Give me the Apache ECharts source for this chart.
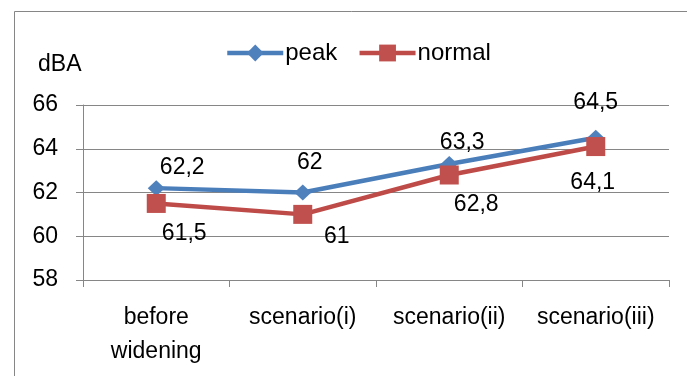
<!DOCTYPE html>
<html>
<head>
<meta charset="utf-8">
<script src="https://cdn.jsdelivr.net/npm/echarts@6/dist/echarts.min.js"></script>
<style>
  html, body { margin: 0; padding: 0; background: #fff; }
  #chart { width: 687px; height: 376px; }
</style>
</head>
<body>
<div id="chart"></div>
<script>
// Noise level (dBA) per road-widening scenario
const categories = ['before\nwidening', 'scenario(i)', 'scenario(ii)', 'scenario(iii)'];
const peakValues = [62.2, 62, 63.3, 64.5];
const normalValues = [61.5, 61, 62.8, 64.1];
const yTicks = { min: 58, max: 66, step: 2 };
const unitLabel = 'dBA';

const FONT = '"Liberation Sans", Arial, sans-serif';
const TEXT = '#000000';
const GRAY = '#868686';

// decimal comma, as in the labels
const fmt = v => String(v).replace('.', ',');

// hand-placed value labels (offset from each marker centre)
const peakLabelShift = [[26, -20], [7, -30], [13, -21], [0, -35]];
const normalLabelShift = [[28, 30], [34, 22], [27, 30], [-3, 36]];

function buildData(values, shifts) {
  return values.map((v, i) => ({
    value: v,
    label: { offset: shifts[i] }
  }));
}

const labelBase = {
  show: true,
  position: 'inside',
  align: 'center',
  verticalAlign: 'middle',
  color: TEXT,
  fontFamily: FONT,
  fontSize: 23,
  formatter: p => fmt(p.value)
};

const chart = echarts.init(document.getElementById('chart'), null, { renderer: 'canvas' });

chart.setOption({
  animation: false,
  backgroundColor: '#ffffff',
  textStyle: { fontFamily: FONT, color: TEXT },
  graphic: [
    {
      type: 'rect',
      shape: { x: 14.5, y: 11.5, width: 720, height: 420 },
      style: { fill: 'none', stroke: GRAY, lineWidth: 1 },
      silent: true,
      z: -1
    },
    {
      type: 'text',
      left: 38,
      top: 53,
      style: { text: unitLabel, font: '23px ' + FONT, fill: TEXT }
    }
  ],
  legend: {
    left: 225,
    top: 41,
    padding: 0,
    itemWidth: 56,
    itemHeight: 21,
    itemGap: 20,
    lineStyle: { width: 4.5 },
    textStyle: { fontFamily: FONT, fontSize: 24, color: TEXT, padding: [0, 0, 0, -3] },
    data: ['peak', 'normal']
  },
  grid: { left: 83, right: 18, top: 105, bottom: 96, containLabel: false },
  xAxis: {
    type: 'category',
    data: categories,
    boundaryGap: true,
    axisLine: { lineStyle: { color: GRAY, width: 1 } },
    axisTick: { show: true, length: 7, alignWithLabel: false, lineStyle: { color: GRAY } },
    axisLabel: {
      interval: 0,
      margin: 21,
      color: TEXT,
      fontFamily: FONT,
      fontSize: 23,
      lineHeight: 34,
      verticalAlign: 'top'
    }
  },
  yAxis: {
    type: 'value',
    min: yTicks.min,
    max: yTicks.max,
    interval: yTicks.step,
    axisLine: { show: true, lineStyle: { color: GRAY, width: 1 } },
    axisTick: { show: true, length: 7, lineStyle: { color: GRAY } },
    splitLine: { show: true, lineStyle: { color: GRAY, width: 1 } },
    axisLabel: {
      margin: 25,
      color: TEXT,
      fontFamily: FONT,
      fontSize: 23,
      formatter: v => fmt(v)
    }
  },
  series: [
    {
      name: 'peak',
      type: 'line',
      data: buildData(peakValues, peakLabelShift),
      symbol: 'diamond',
      symbolSize: [17, 16],
      showAllSymbol: true,
      lineStyle: { color: '#4A7EBB', width: 4.5 },
      itemStyle: { color: '#4F81BD' },
      label: labelBase,
      z: 3
    },
    {
      name: 'normal',
      type: 'line',
      data: buildData(normalValues, normalLabelShift),
      symbol: 'rect',
      symbolSize: 19,
      showAllSymbol: true,
      lineStyle: { color: '#BE4B48', width: 4.5 },
      itemStyle: { color: '#C0504D' },
      label: labelBase,
      z: 4
    }
  ]
});
</script>
</body>
</html>
